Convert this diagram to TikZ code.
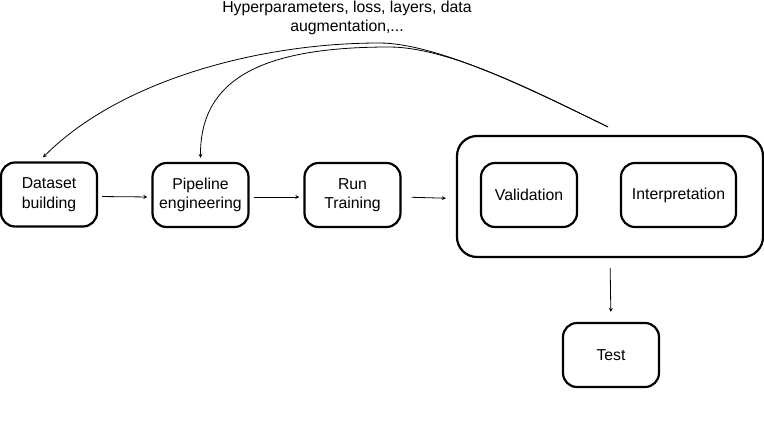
\documentclass[tikz,border=0pt]{standalone}
\usepackage{fontspec}
\setmainfont{Liberation Sans}
\usetikzlibrary{positioning}

\begin{document}
\begin{tikzpicture}[x=1pt,y=-1pt,>=stealth,
    stage/.style={draw,line width=2.2pt,rounded corners=14pt,align=center,
      minimum width=96pt,minimum height=64pt,inner sep=0pt,
      font=\fontsize{15.8}{19.5}\selectfont},
    flow/.style={->,line width=0.8pt,shorten <=4pt,shorten >=4pt}]
    \useasboundingbox (0,0) rectangle (764,432);
    \node (tune) [draw,line width=2.2pt,rounded corners=20pt,minimum width=306pt,
      minimum height=121pt] at (610,196.5) {};
    \begin{scope}[every node/.style={stage}]
      \node (data) at (49,194.5) {Dataset\\building};
      \node (pipe) at (200.5,195) {Pipeline\\engineering};
      \node (run) at (352.5,195) {Run\\Training};
      \node (valid) at (529,195) {Validation};
      \node (interp) [minimum width=115pt] at (678.5,195) {Interpretation};
      \node (test) at (611,355) {Test};
    \end{scope}
    \node (hyper) [align=center,font=\fontsize{15.8}{19.5}\selectfont] at (347,18)
      {Hyperparameters, loss, layers, data\\augmentation,...};
    \draw[flow] ([yshift=-2pt]data.east) -- ([yshift=-2pt]pipe.west);
    \draw[flow] ([yshift=-2pt]pipe.east) -- ([yshift=-2pt]run.west);
    \draw[flow,shorten <=10pt,shorten >=10pt] ([yshift=-2pt]run.east) -- ([yshift=-2pt]tune.west);
    \draw[flow,shorten <=10pt,shorten >=10pt] (tune.south) -- (test.north);
    % feedback loops
    \begin{scope}[->,line width=0.8pt]
      \draw ([xshift=-2pt,yshift=8pt]tune.north) .. controls (538,93) and (439,43) .. (379,43)
        .. controls (260,43) and (120,80) .. ([xshift=-6pt,yshift=4pt]data.north);
      \draw ([xshift=-2pt,yshift=8pt]tune.north) .. controls (538,93) and (450,47) .. (389,47)
        .. controls (260,47) and (200,80) .. ([yshift=4pt]pipe.north);
    \end{scope}
\end{tikzpicture}
\end{document}
